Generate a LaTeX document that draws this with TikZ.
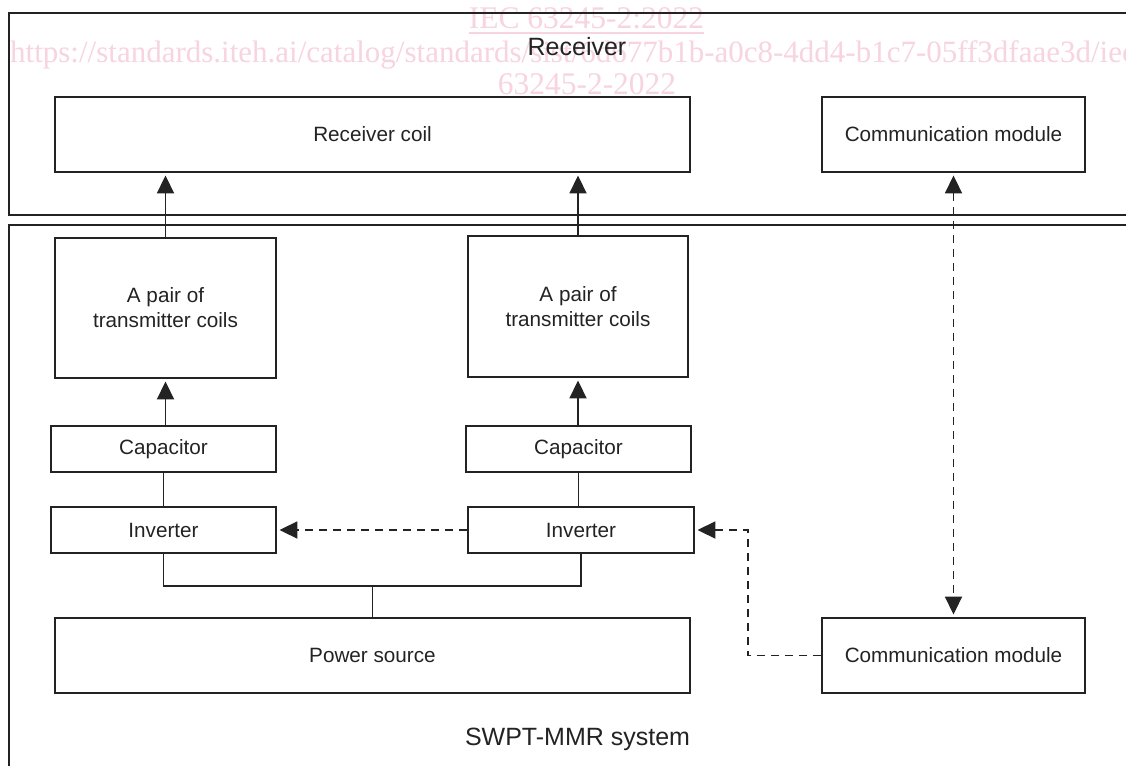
\documentclass[tikz,border=0pt]{standalone}
\usepackage{fontspec}
\setmainfont{Liberation Sans}
\newfontfamily\wmfont{Liberation Serif}
\usetikzlibrary{arrows.meta}
\definecolor{ln}{RGB}{35,35,35}
\definecolor{wm}{RGB}{247,212,223}
\begin{document}
\begin{tikzpicture}[x=1pt,y=-1pt,
  blk/.style={draw=ln, fill=white, line width=1.9pt, inner sep=0pt, align=center,
    font=\fontsize{20.7}{25}\selectfont, text=ln},
  frame/.style={draw=ln, line width=2pt},
  conn/.style={draw=ln, line width=1.9pt},
  dsh/.style={conn, dash pattern=on 8pt off 6pt},
  tip/.style={-{Triangle[length=18pt,width=17pt]}, shorten >=2.5pt},
  tips/.style={{Triangle[length=18pt,width=17pt]}-{Triangle[length=18pt,width=17pt]}, shorten >=2.5pt, shorten <=2.5pt},
  wmtext/.style={text=wm, inner sep=0pt, font=\wmfont\fontsize{31.5}{31.5}\selectfont},
  title/.style={text=ln, inner sep=0pt, anchor=base}
]
\clip (0,0) rectangle (1126,765);
\fill[white] (0,0) rectangle (1126,765);

% watermark
\node[wmtext, anchor=base] (wm1) at (586.5,29) {IEC 63245-2:2022};
\draw[wm, line width=2pt] ([yshift=-4pt]wm1.base west) -- ([yshift=-4pt]wm1.base east);
\node[wmtext, anchor=base west, font=\wmfont\fontsize{31}{31}\selectfont] (wm2) at (10,63) {https://standards.iteh.ai/catalog/standards/sist/6d677b1b-a0c8-4dd4-b1c7-05ff3dfaae3d/iec-};
\node[wmtext, anchor=base] (wm3) at (587,95) {63245-2-2022};

% frames
\draw[frame] (8.5,13) rectangle (1140,215);
\draw[frame] (8.5,225) rectangle (1140,790);
\node[title, font=\fontsize{25}{25}\selectfont] (rtitle) at (577,56) {Receiver};
\node[title, font=\fontsize{25}{25}\selectfont] (stitle) at (577.5,745) {SWPT-MMR system};

% blocks
\node[blk, minimum width=635pt, minimum height=75pt] (rcoil) at (372.5,134.5) {Receiver coil};
\node[blk, minimum width=263pt, minimum height=75pt] (rcomm) at (953.5,134.5) {Communication module};
\node[blk, minimum width=221pt, minimum height=140pt] (tx1) at (165.5,308) {A pair of\\transmitter coils};
\node[blk, minimum width=220pt, minimum height=141pt] (tx2) at (578,306.5) {A pair of\\transmitter coils};
\node[blk, minimum width=225pt, minimum height=46pt] (cap1) at (163.5,449) {Capacitor};
\node[blk, minimum width=225pt, minimum height=46pt] (cap2) at (578.5,449) {Capacitor};
\node[blk, minimum width=225pt, minimum height=46pt] (inv1) at (163.5,530) {Inverter};
\node[blk, minimum width=226pt, minimum height=46pt] (inv2) at (581,530) {Inverter};
\node[blk, minimum width=635pt, minimum height=75pt] (power) at (372.5,655.5) {Power source};
\node[blk, minimum width=263pt, minimum height=75pt] (bcomm) at (953.5,655.5) {Communication module};

% connectors
\draw[conn, tip] (tx1.north) -- (tx1.north |- rcoil.south);
\draw[conn, tip] (tx2.north) -- (tx2.north |- rcoil.south);
\draw[conn, tip] (tx1.south |- cap1.north) -- (tx1.south);
\draw[conn, tip] (tx2.south |- cap2.north) -- (tx2.south);
\draw[conn] (cap1.south) -- (inv1.north);
\draw[conn] (cap2.south) -- (cap2.south |- inv2.north);
\coordinate (bus) at (372.5,586);
\draw[conn] (inv1.south) |- (bus) -| (inv2.south);
\draw[conn] (bus) -- (power.north);
\draw[dsh, tip] (inv2.west) -- (inv1.east);
\coordinate (turn) at (748,590);
\draw[dsh, tip] (bcomm.west) -| (turn) |- (inv2.east);
\draw[dsh, tips] (rcomm.south) -- (bcomm.north);
\end{tikzpicture}
\end{document}
